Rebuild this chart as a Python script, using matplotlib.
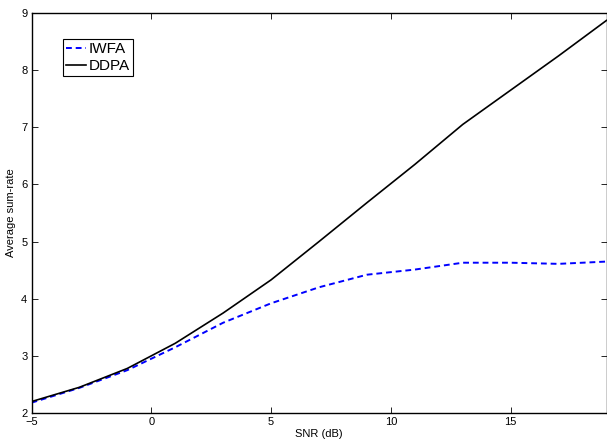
import matplotlib
matplotlib.use('Agg')
import matplotlib.pyplot as plt

snr_db = [-5, -3, -1, 1, 3, 5, 7, 9, 11, 13, 15, 17, 19]
iwfa = [2.18, 2.44, 2.75, 3.15, 3.58, 3.92, 4.20, 4.42, 4.51, 4.63, 4.63, 4.61, 4.65]
ddpa = [2.20, 2.45, 2.78, 3.22, 3.75, 4.33, 5.00, 5.68, 6.35, 7.05, 7.65, 8.25, 8.87]

plt.rcParams['font.family'] = ['Liberation Sans', 'DejaVu Sans']
plt.rcParams['font.size'] = 8

fig = plt.figure(figsize=(6.07, 4.4), dpi=100)
ax = fig.add_axes([31.5 / 607, 1 - 413 / 440, (606.5 - 31.5) / 607, (413 - 13) / 440])

ax.plot(snr_db, iwfa, color='blue', linestyle=(0, (3, 2)), linewidth=1.4, label='IWFA')
ax.plot(snr_db, ddpa, color='black', linewidth=1.2, label='DDPA')

ax.set_xlim(-5, 19)
ax.set_ylim(2, 9)
ax.set_xticks([-5, 0, 5, 10, 15])
ax.set_yticks([2, 3, 4, 5, 6, 7, 8, 9])
ax.tick_params(direction='in', top=True, right=True, length=4, width=0.6, pad=3)
for s in ax.spines.values():
    s.set_linewidth(1.0)

ax.set_xlabel('SNR (dB)', labelpad=1)
ax.set_ylabel('Average sum-rate', labelpad=4)

leg = ax.legend(loc='upper left', bbox_to_anchor=(0.055, 0.935), fancybox=False,
                edgecolor='black', framealpha=1, handlelength=1.3, handletextpad=0.15,
                borderpad=0.2, labelspacing=0.22, borderaxespad=0, fontsize=11)
leg.get_frame().set_linewidth(0.8)

fig.savefig('out.png', dpi=100)
